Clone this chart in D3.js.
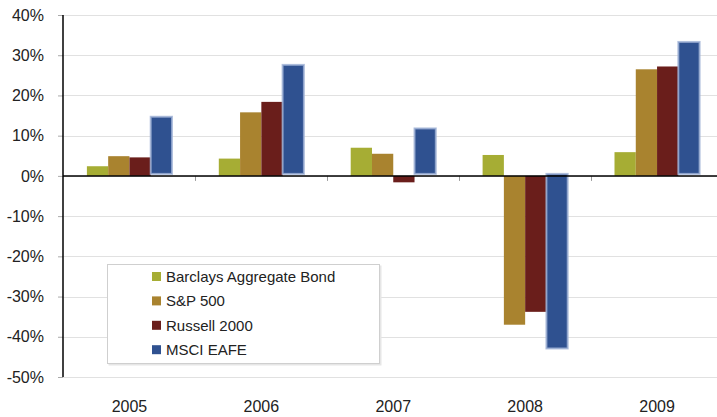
<!DOCTYPE html>
<html>
<head>
<meta charset="utf-8">
<script src="https://cdn.jsdelivr.net/npm/d3@7"></script>
<style>
  html, body { margin: 0; padding: 0; background: #fff; }
  svg { display: block; font-family: "Liberation Sans", Arial, sans-serif; }
</style>
</head>
<body>
<svg id="chart" width="717" height="417"></svg>
<script>
// Annual returns by index, 2005-2009 (percent)
const years = ["2005", "2006", "2007", "2008", "2009"];
const seriesNames = ["Barclays Aggregate Bond", "S&P 500", "Russell 2000", "MSCI EAFE"];
const barclaysAgg = [2.4, 4.3, 7.0, 5.2, 5.9];
const sp500 = [4.9, 15.8, 5.5, -37.0, 26.5];
const russell2000 = [4.6, 18.4, -1.6, -33.8, 27.2];
const msciEafe = [14.2, 27.1, 11.3, -43.4, 32.8];
const seriesValues = [barclaysAgg, sp500, russell2000, msciEafe];
const seriesColors = ["#a6ad34", "#a9832f", "#6a1e1b", "#2f5190"];
const yTicks = [40, 30, 20, 10, 0, -10, -20, -30, -40, -50];

const svg = d3.select("#chart");
const W = 717;

const y = d3.scaleLinear().domain([-50, 40]).range([377, 15]);
const x0 = d3.scaleBand().domain(years).range([63.5, 723]).padding(0);
const x1 = d3.scaleBand().domain(seriesNames).range([0, x0.bandwidth()])
  .paddingInner(0).paddingOuter(1.1);

// Horizontal gridlines
svg.append("g")
  .selectAll("line")
  .data(yTicks)
  .join("line")
  .attr("x1", 63).attr("x2", W)
  .attr("y1", d => Math.round(y(d)) + 0.5).attr("y2", d => Math.round(y(d)) + 0.5)
  .attr("stroke", "#e1e1e1").attr("stroke-width", 1);

// Y axis labels and ticks
const yAxis = svg.append("g")
  .attr("transform", "translate(63,0)")
  .call(d3.axisLeft(y).tickValues(yTicks).tickSize(5).tickPadding(14)
    .tickFormat(d => d + "%"));
yAxis.select(".domain").remove();
yAxis.selectAll(".tick line").attr("stroke", "#aaa");
yAxis.selectAll(".tick text")
  .attr("font-size", 16).attr("fill", "#222")
  .attr("font-family", "Liberation Sans, Arial, sans-serif");

// Bars
const data = [];
years.forEach((yr, i) => {
  seriesNames.forEach((s, j) => {
    data.push({ year: yr, series: s, idx: j, value: seriesValues[j][i] });
  });
});

const barsG = svg.append("g");
barsG.selectAll("rect")
  .data(data)
  .join("rect")
  .attr("x", d => x0(d.year) + x1(d.series))
  .attr("y", d => y(Math.max(0, d.value)))
  .attr("width", x1.bandwidth())
  .attr("height", d => Math.abs(y(d.value) - y(0)))
  .attr("fill", d => seriesColors[d.idx])
  .attr("stroke", d => d.idx === 3 ? "#9fb2d6" : "none")
  .attr("stroke-width", d => d.idx === 3 ? 2 : 0)
  .attr("stroke-opacity", 0.8)
  .attr("transform", d => d.idx === 3 ? "translate(0,-2)" : null);

// Category tick marks below the zero line
svg.append("g")
  .selectAll("line")
  .data(years.slice(1))
  .join("line")
  .attr("x1", d => Math.round(x0(d)) + 0.5).attr("x2", d => Math.round(x0(d)) + 0.5)
  .attr("y1", y(0)).attr("y2", y(0) + 5)
  .attr("stroke", "#999").attr("stroke-width", 1);

// Zero line and vertical axis
svg.append("line")
  .attr("x1", 63).attr("x2", W).attr("y1", y(0)).attr("y2", y(0))
  .attr("stroke", "#000").attr("stroke-width", 1.5);
svg.append("line")
  .attr("x1", 63).attr("x2", 63).attr("y1", y(40)).attr("y2", y(-50))
  .attr("stroke", "#000").attr("stroke-width", 1.5);

// Year labels
svg.append("g")
  .selectAll("text")
  .data(years)
  .join("text")
  .attr("x", d => x0(d) + x0.bandwidth() / 2)
  .attr("y", 412)
  .attr("text-anchor", "middle")
  .attr("font-size", 16).attr("fill", "#222")
  .text(d => d);

// Legend
const legend = svg.append("g");
legend.append("rect")
  .attr("x", 108.5).attr("y", 265.5).attr("width", 273).attr("height", 100)
  .attr("fill", "#e6e6e6");
legend.append("rect")
  .attr("x", 107.5).attr("y", 264.5).attr("width", 272).attr("height", 99)
  .attr("fill", "#fff").attr("stroke", "#cfcfcf").attr("stroke-width", 1);
const items = legend.selectAll("g.item")
  .data(seriesNames)
  .join("g")
  .attr("class", "item")
  .attr("transform", (d, i) => `translate(0,${i * 24.4})`);
items.append("rect")
  .attr("x", 152).attr("y", 272).attr("width", 9).attr("height", 9)
  .attr("fill", (d, i) => seriesColors[i]);
items.append("text")
  .attr("x", 166).attr("y", 282)
  .attr("font-size", 15).attr("fill", "#222")
  .text(d => d);
</script>
</body>
</html>
